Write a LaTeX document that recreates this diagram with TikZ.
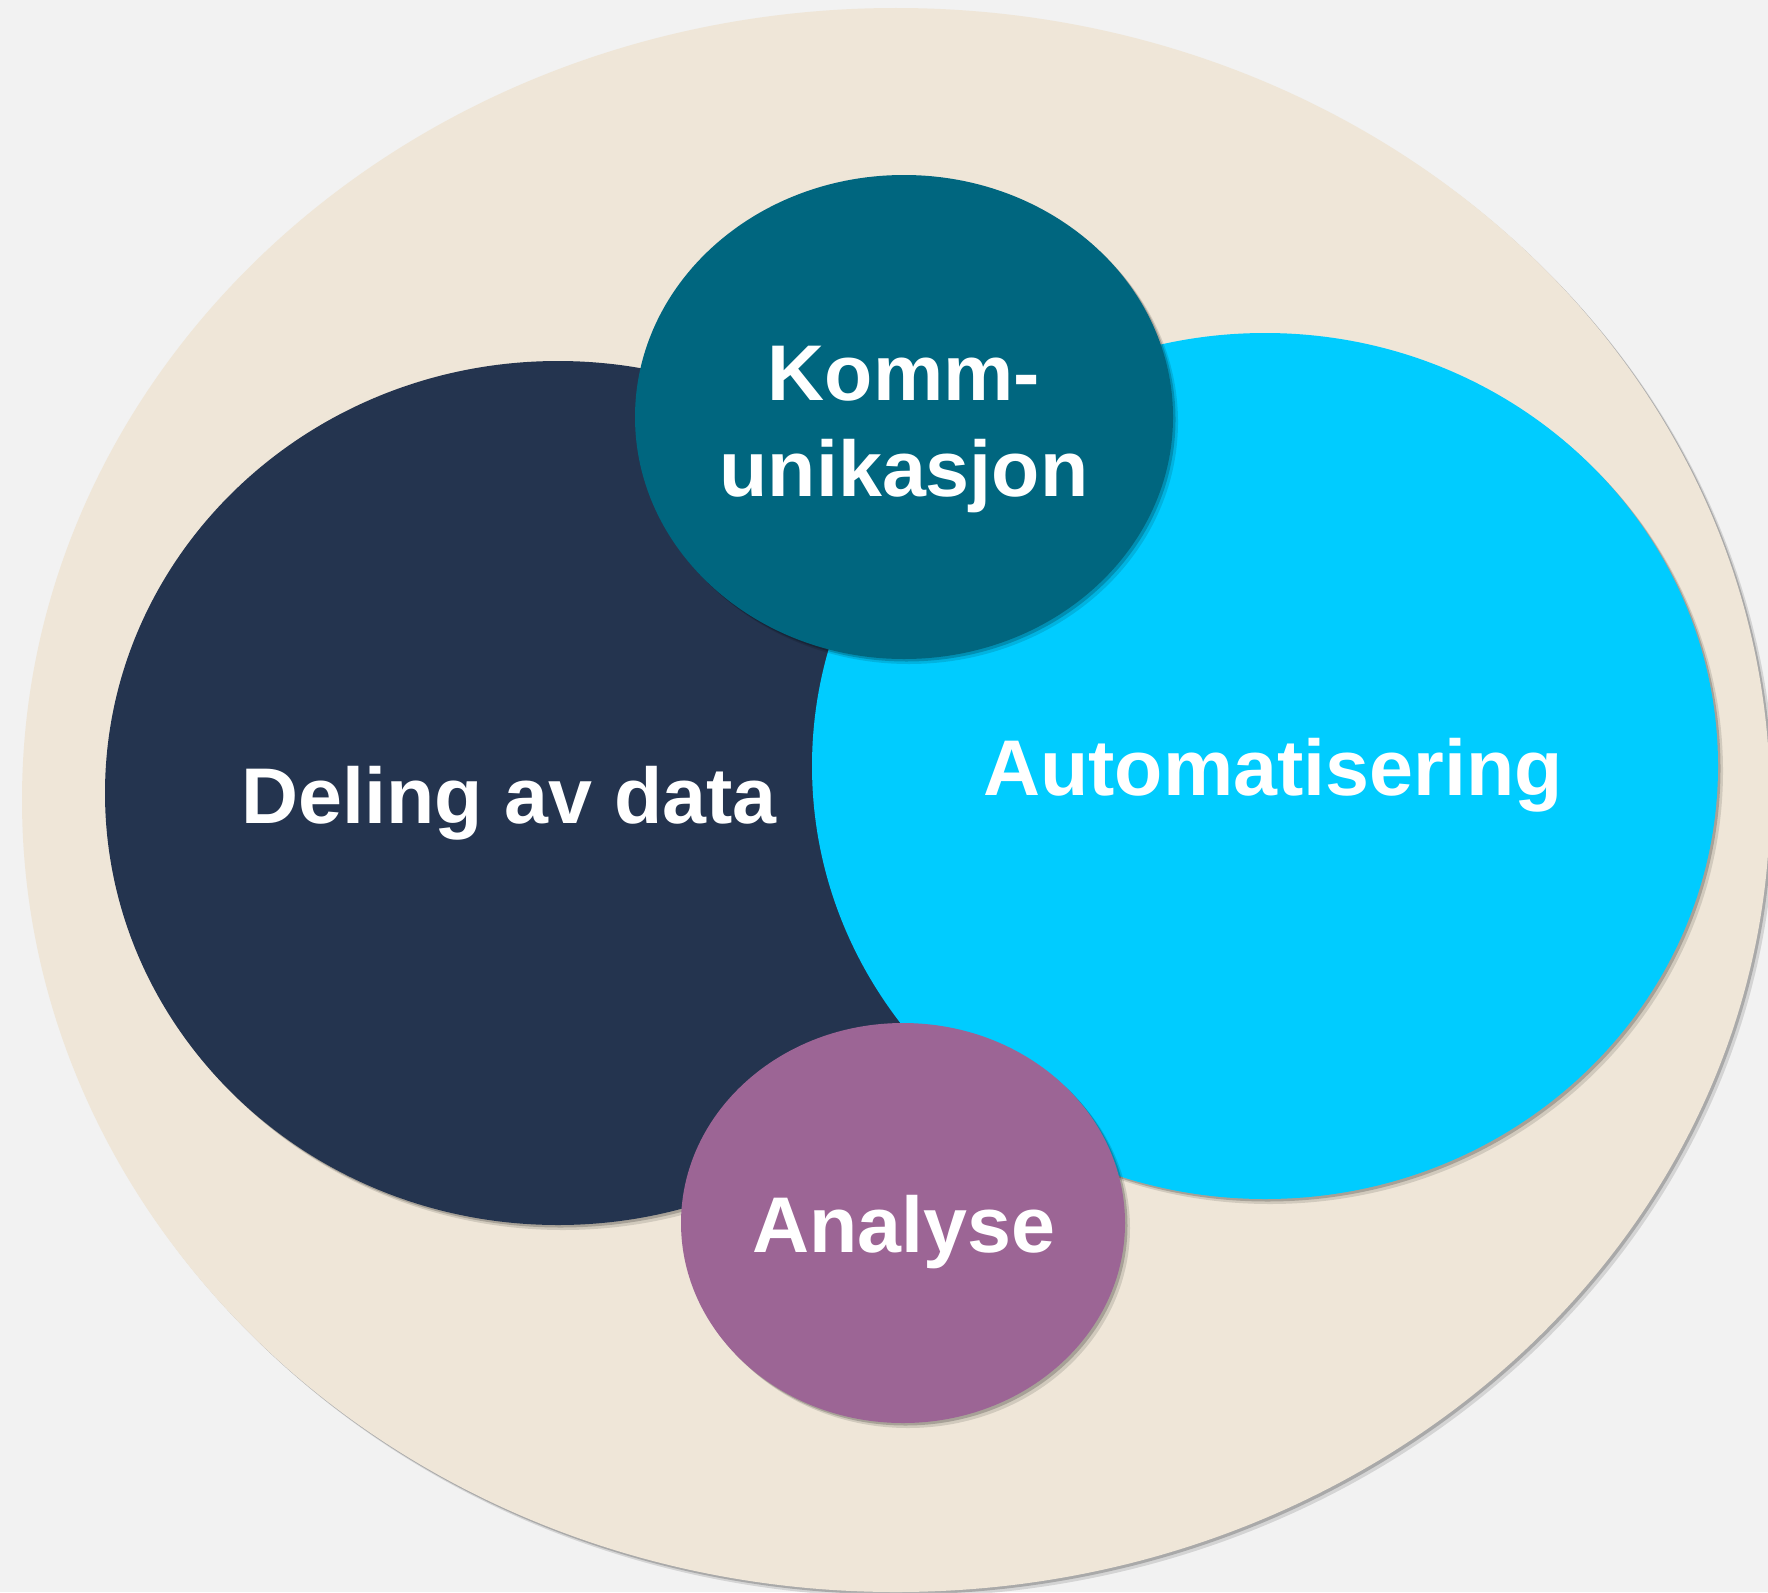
\documentclass[tikz,border=0pt]{standalone}
\usepackage{fontspec}
\setmainfont{Liberation Sans}
\usetikzlibrary{shapes.geometric,shadows}
\definecolor{bgc}{HTML}{F2F2F2}
\definecolor{beige}{HTML}{EFE6D8}
\definecolor{navy}{HTML}{24344F}
\definecolor{cyanc}{HTML}{00CCFF}
\definecolor{teal}{HTML}{00667F}
\definecolor{purp}{HTML}{9C6595}
\begin{document}
\begin{tikzpicture}[x=1pt,y=-1pt,
  blob/.style={ellipse, inner sep=0pt, draw=none,
    drop shadow={shadow xshift=5pt, shadow yshift=-5pt, opacity=0.12, fill=black},
    drop shadow={shadow xshift=2.5pt, shadow yshift=-2.5pt, opacity=0.2, fill=black}},
  lbl/.style={text=white, font=\fontsize{79}{90}\selectfont\bfseries, anchor=base, inner sep=0pt}]
\useasboundingbox (0,0) rectangle (1768,1592);
\clip (0,0) rectangle (1768,1592);
\fill[bgc] (0,0) rectangle (1768,1592);
\node[blob, fill=beige, minimum width=1748pt, minimum height=1584pt] (outer) at (896,800) {};
\node[blob, fill=navy, minimum width=906pt, minimum height=864pt] (deling) at (558,793) {};
\node[blob, fill=cyanc, minimum width=906pt, minimum height=866pt] (auto) at (1265,766) {};
\node[blob, fill=teal, minimum width=538pt, minimum height=484pt] (komm) at (904,417) {};
\node[blob, fill=purp, minimum width=444pt, minimum height=400pt] (ana) at (903,1223) {};
\node[lbl] (tdeling) at (509,823) {Deling av data};
\node[lbl] (tauto) at (1273,795) {Automatisering};
\node[lbl] (tkomm1) at (904,400) {Komm-};
\node[lbl] (tkomm2) at (904,496) {unikasjon};
\node[lbl] (tana) at (904,1252) {Analyse};
\end{tikzpicture}
\end{document}
